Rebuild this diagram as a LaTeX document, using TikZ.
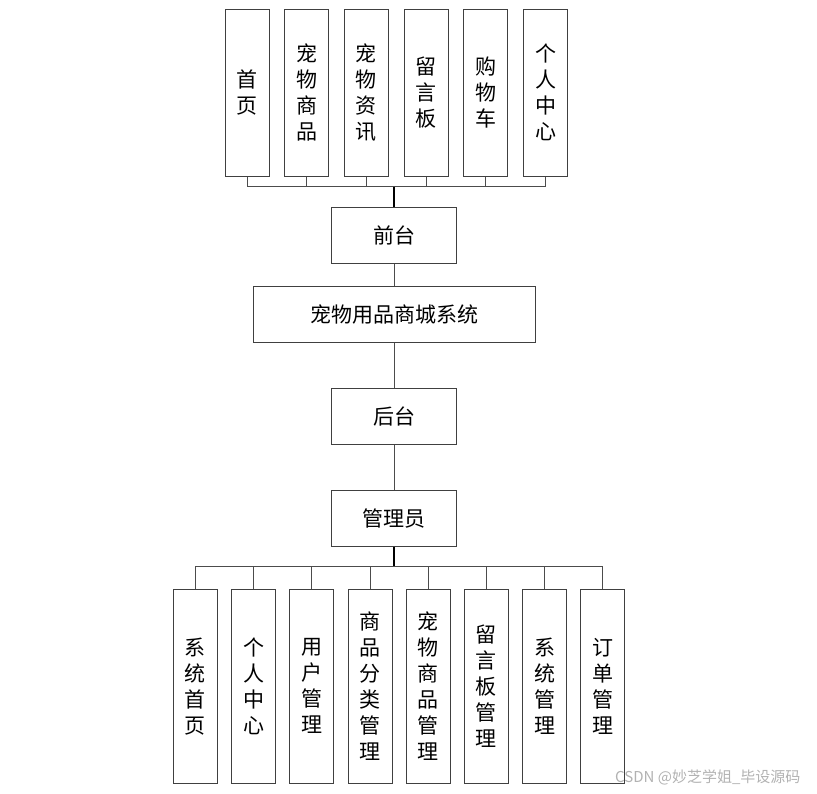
\documentclass[tikz,border=0pt]{standalone}
\usepackage{fontspec}
\setmainfont{Noto Sans CJK SC}
\newfontfamily\cjk{Noto Sans CJK SC}
\begin{document}
\begin{tikzpicture}[x=1pt,y=-1pt,
  box/.style={draw=black!75,line width=1pt,fill=white,inner sep=0pt,align=center,
    font=\cjk\fontsize{21}{26}\selectfont},
  tall/.style={box,minimum width=44pt,minimum height=166.7pt},
  low/.style={box,minimum width=44pt,minimum height=194pt},
  wide/.style={box,minimum width=125pt,minimum height=56pt},
  link/.style={draw=black!70,line width=1pt},
  trunk/.style={draw=black,line width=1.6pt}]
\useasboundingbox (0,0) rectangle (817,793);
% top modules
\node[tall] (t1) at (247,92.7) {首\\页};
\node[tall] (t2) at (306.7,92.7) {宠\\物\\商\\品};
\node[tall] (t3) at (366.3,92.7) {宠\\物\\资\\讯};
\node[tall] (t4) at (426.2,92.7) {留\\言\\板};
\node[tall] (t5) at (485.9,92.7) {购\\物\\车};
\node[tall] (t6) at (545.5,92.7) {个\\人\\中\\心};
\node[wide] (front) at (394.2,235.3) {前台};
\node[box,minimum width=281.7pt,minimum height=55.6pt] (sys) at (394.2,314.5) {宠物用品商城系统};
\node[wide] (back) at (394.2,416.5) {后台};
\node[wide] (admin) at (394.2,518.3) {管理员};
% bottom modules
\node[low] (b1) at (195.3,686.3) {系\\统\\首\\页};
\node[low] (b2) at (253.5,686.3) {个\\人\\中\\心};
\node[low] (b3) at (311.8,686.3) {用\\户\\管\\理};
\node[low] (b4) at (370,686.3) {商\\品\\分\\类\\管\\理};
\node[low] (b5) at (428.2,686.3) {宠\\物\\商\\品\\管\\理};
\node[low] (b6) at (486.3,686.3) {留\\言\\板\\管\\理};
\node[low] (b7) at (544.5,686.3) {系\\统\\管\\理};
\node[low] (b8) at (602.7,686.3) {订\\单\\管\\理};
% buses
\coordinate (tb) at (394.2,186.7);
\coordinate (bb) at (394.2,566.7);
\draw[link] (t1.south) -- (t1.south |- tb) -- (t6.south |- tb) -- (t6.south);
\foreach \i in {2,3,4,5}{\draw[link] (t\i.south) -- (t\i.south |- tb);}
\draw[trunk] (tb) -- (front.north);
\draw[link] (front.south) -- (sys.north);
\draw[link] (sys.south) -- (back.north);
\draw[link] (back.south) -- (admin.north);
\draw[trunk] (admin.south) -- (bb);
\draw[link] (b1.north) -- (b1.north |- bb) -- (b8.north |- bb) -- (b8.north);
\foreach \i in {2,...,7}{\draw[link] (b\i.north) -- (b\i.north |- bb);}
% watermark
\node[text=black!30,font=\cjk\fontsize{15}{17}\selectfont,anchor=west,inner sep=0pt] (wm) at (615,777) {CSDN @妙芝学姐\_毕设源码};
\end{tikzpicture}
\end{document}
